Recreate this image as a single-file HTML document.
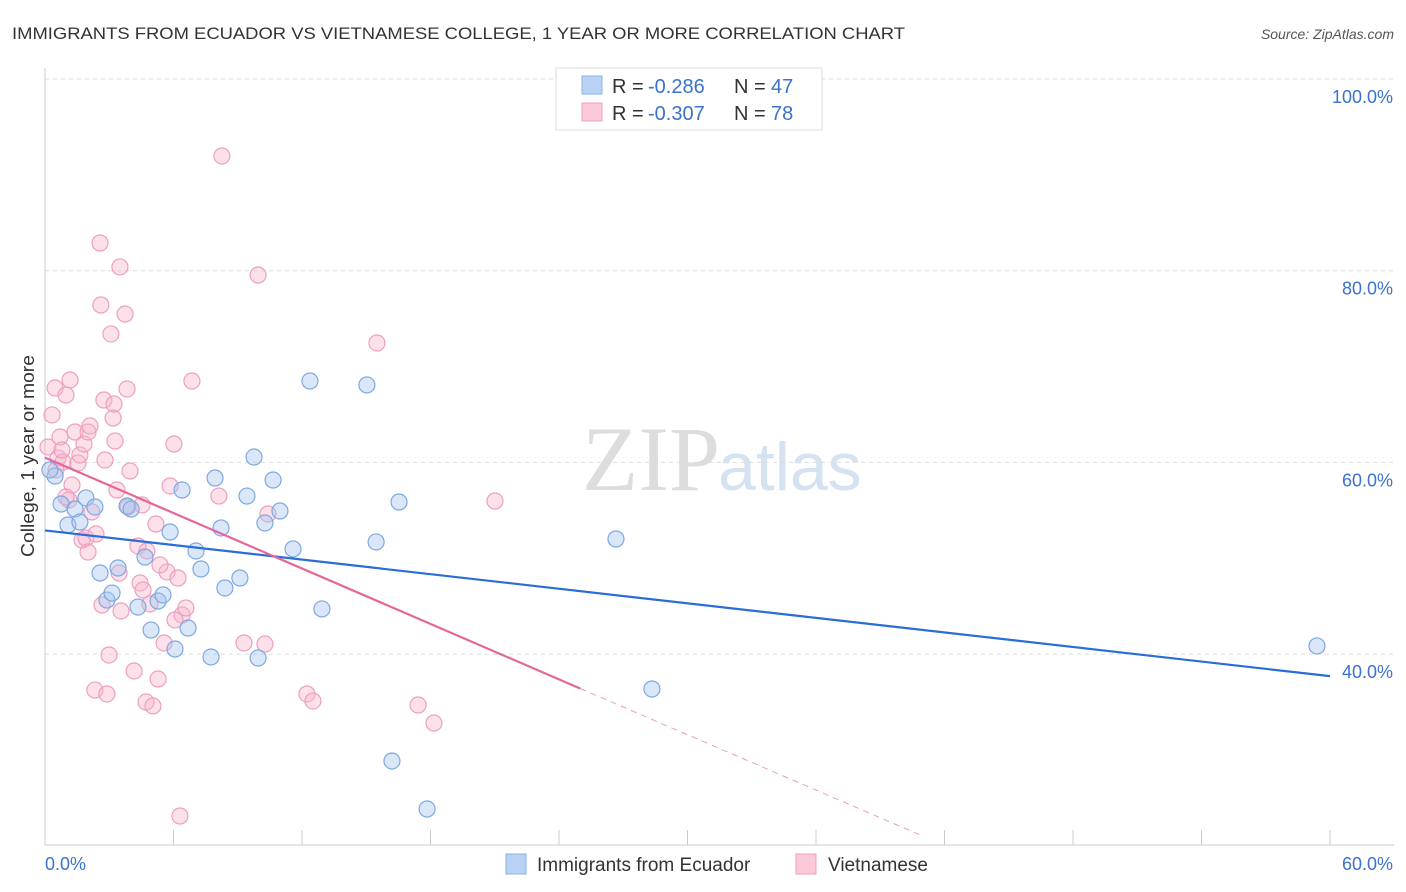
<!DOCTYPE html>
<html><head><meta charset="utf-8"><style>
body{margin:0;background:#fff;font-family:"Liberation Sans",sans-serif}
svg{display:block}
</style></head><body>
<svg id="chart" width="1406" height="892" xmlns="http://www.w3.org/2000/svg">
<text x="12" y="39" font-size="17" fill="#333" textLength="893" lengthAdjust="spacingAndGlyphs">IMMIGRANTS FROM ECUADOR VS VIETNAMESE COLLEGE, 1 YEAR OR MORE CORRELATION CHART</text>
<text x="1394" y="39" font-size="14" fill="#555" text-anchor="end" font-style="italic">Source: ZipAtlas.com</text>
<text x="720" y="490" font-size="92" fill="#ddd" text-anchor="end" font-family="Liberation Serif">ZIP</text>
<text x="718" y="490" font-size="68" fill="#d5e2f2">atlas</text>
<g id="grid"></g><g id="axes"></g><g id="marks"></g>
<text transform="translate(34,456) rotate(-90)" font-size="18" fill="#333" text-anchor="middle" textLength="202" lengthAdjust="spacingAndGlyphs">College, 1 year or more</text>
<g>
<rect x="556" y="68" width="266" height="62" fill="#fff" stroke="#ddd"/>
<rect x="582" y="76" width="20" height="18" fill="#b9d3f5" stroke="#8ab3e8"/>
<rect x="582" y="103" width="20" height="18" fill="#fbc9d8" stroke="#f1a0bb"/>
<text x="612" y="93" font-size="20" fill="#333">R =</text>
<text x="648" y="93" font-size="20" fill="#3a72cc">-0.286</text>
<text x="734" y="93" font-size="20" fill="#333">N =</text>
<text x="771" y="93" font-size="20" fill="#3a72cc">47</text>
<text x="612" y="120" font-size="20" fill="#333">R =</text>
<text x="648" y="120" font-size="20" fill="#3a72cc">-0.307</text>
<text x="734" y="120" font-size="20" fill="#333">N =</text>
<text x="771" y="120" font-size="20" fill="#3a72cc">78</text>
</g>
<g>
<rect x="506" y="854" width="20" height="20" fill="#b9d3f5" stroke="#8ab3e8"/>
<text x="537" y="871" font-size="19" fill="#333">Immigrants from Ecuador</text>
<rect x="796" y="854" width="20" height="20" fill="#fbc9d8" stroke="#f1a0bb"/>
<text x="828" y="871" font-size="19" fill="#333">Vietnamese</text>
</g>
</svg>
<script>
const yTicks=[100,80,60,40];
const xTickLabels=["0.0%","60.0%"];
const bluePx=[[55,476],[61,504],[68,525],[75,509],[80,522],[86,498],[95,507],[100,573],[107,600],[112,593],[118,568],[127,506],[131,509],[138,607],[145,557],[151,630],[158,601],[163,595],[170,532],[175,649],[182,490],[188,628],[196,551],[201,569],[211,657],[215,478],[221,528],[225,588],[240,578],[247,496],[254,457],[258,658],[265,523],[273,480],[280,511],[293,549],[310,381],[322,609],[367,385],[376,542],[392,761],[399,502],[427,809],[616,539],[652,689],[1317,646],[50,470]];
const pinkPx=[[48,447],[52,415],[55,388],[58,458],[60,437],[63,462],[66,395],[69,500],[70,380],[72,485],[75,432],[78,463],[80,455],[82,540],[84,444],[86,538],[88,432],[90,426],[92,512],[95,690],[100,243],[101,305],[102,605],[104,400],[107,694],[109,655],[111,334],[113,418],[114,404],[117,490],[119,573],[120,267],[121,611],[125,314],[127,389],[128,507],[134,671],[138,546],[140,583],[142,505],[146,702],[147,551],[150,604],[153,706],[156,524],[158,679],[164,643],[167,572],[170,486],[174,444],[178,578],[180,816],[182,615],[186,608],[192,381],[219,496],[222,156],[244,643],[258,275],[265,644],[268,514],[307,694],[313,701],[377,343],[418,705],[434,723],[495,501],[56,470],[62,450],[105,460],[115,441],[175,620],[143,590],[160,565],[96,534],[88,552],[130,471],[66,497]];
const toX=p=>+((p-45)/21.417).toFixed(2), toY=p=>+(100-(p-79)/9.585).toFixed(2);
const blueX=bluePx.map(p=>toX(p[0])), blueY=bluePx.map(p=>toY(p[1]));
const pinkX=pinkPx.map(p=>toX(p[0])), pinkY=pinkPx.map(p=>toY(p[1]));
const blueTrend=[[0,52.9],[60,37.7]];
const pinkTrend=[[0,60.5],[25,36.4],[41,21]];
const X=v=>45+v*21.417, Y=v=>79+(100-v)*9.585;
const NS="http://www.w3.org/2000/svg";
function mk(t,a,parent){const e=document.createElementNS(NS,t);for(const k in a)e.setAttribute(k,a[k]);document.getElementById(parent).appendChild(e);return e;}
yTicks.forEach(v=>{
 const l=mk('line',{x1:45,x2:1394,y1:Y(v),y2:Y(v),stroke:'#ddd','stroke-dasharray':'4,4'},'grid');
 
 
 const t=mk('text',{x:1393,y:Y(v)+24,'font-size':18,fill:'#3a72cc','text-anchor':'end'},'axes');
 t.textContent=v.toFixed(1)+'%';
 
 
});
const ax=mk('line',{x1:45,x2:1394,y1:845,y2:845,stroke:'#ccc'},'axes');


const ay=mk('line',{x1:45,x2:45,y1:68,y2:845,stroke:'#ccc'},'axes');


for(let i=0;i<=10;i++){const tk=mk('line',{x1:X(i*6),x2:X(i*6),y1:830,y2:845,stroke:'#ccc'},'axes');
 
 }
const xl0=mk('text',{x:45,y:870,'font-size':18,fill:'#3a72cc'},'axes');xl0.textContent=xTickLabels[0];


const xl1=mk('text',{x:1393,y:870,'font-size':18,fill:'#3a72cc','text-anchor':'end'},'axes');xl1.textContent=xTickLabels[1];


pinkX.forEach((x,i)=>{const c=mk('circle',{cx:X(x),cy:Y(pinkY[i]),r:8,fill:'rgba(248,180,204,0.4)',stroke:'#eda0bb','stroke-width':1.2},'marks');
 
 });
blueX.forEach((x,i)=>{const c=mk('circle',{cx:X(x),cy:Y(blueY[i]),r:8,fill:'rgba(160,195,240,0.4)',stroke:'#7ea8e0','stroke-width':1.2},'marks');
 
 });
const bl=mk('line',{x1:X(blueTrend[0][0]),y1:Y(blueTrend[0][1]),x2:X(blueTrend[1][0]),y2:Y(blueTrend[1][1]),stroke:'#2a6dd6','stroke-width':2.2},'marks');


const pl=mk('line',{x1:X(pinkTrend[0][0]),y1:Y(pinkTrend[0][1]),x2:X(pinkTrend[1][0]),y2:Y(pinkTrend[1][1]),stroke:'#e4679a','stroke-width':2.2},'marks');


const pd=mk('line',{x1:X(pinkTrend[1][0]),y1:Y(pinkTrend[1][1]),x2:X(pinkTrend[2][0]),y2:Y(pinkTrend[2][1]),stroke:'#e4a0bb','stroke-width':1,'stroke-dasharray':'6,5'},'marks');


</script>
</body></html>
